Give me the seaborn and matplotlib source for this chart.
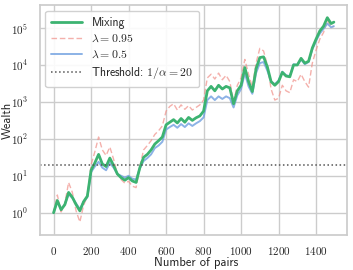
"""Wealth of the betting procedures over pairs (log scale)."""

import matplotlib
matplotlib.use("Agg")
import matplotlib.pyplot as plt
import matplotlib.ticker as mticker
import numpy as np
import pandas as pd
import seaborn as sns

pairs = [0, 20, 40, 60, 80, 100, 120, 140, 160, 180, 200, 220, 240, 260, 280,
         300, 320, 340, 360, 380, 400, 420, 440, 460, 480, 500, 520, 540, 560,
         580, 600, 620, 640, 660, 680, 700, 720, 740, 760, 780, 800, 820, 840,
         860, 880, 900, 920, 940, 960, 980, 1000, 1020, 1040, 1060, 1080, 1100,
         1120, 1140, 1160, 1180, 1200, 1220, 1240, 1260, 1280, 1300, 1320, 1340,
         1360, 1380, 1400, 1420, 1440, 1460, 1480, 1495]

# log10 of wealth
mixing_log = [0.00, 0.33, 0.08, 0.22, 0.55, 0.42, 0.22, 0.05, 0.30, 0.45, 1.15,
              1.35, 1.58, 1.32, 1.25, 1.48, 1.28, 1.05, 0.95, 0.88, 0.95, 0.86,
              0.82, 1.22, 1.50, 1.58, 1.70, 1.86, 1.95, 2.05, 2.38, 2.45, 2.52,
              2.43, 2.55, 2.45, 2.58, 2.50, 2.57, 2.62, 2.75, 3.30, 3.42, 3.30,
              3.45, 3.35, 3.42, 3.38, 2.95, 3.30, 3.45, 3.93, 3.55, 3.28, 3.90,
              4.20, 4.22, 3.95, 3.55, 3.45, 3.55, 3.80, 3.70, 3.68, 4.00, 4.00,
              4.18, 4.05, 4.10, 4.46, 4.70, 4.92, 5.05, 5.28, 5.12, 5.16]
lam095_log = [0.00, 0.48, 0.02, 0.25, 0.82, 0.55, 0.05, -0.25, 0.20, 0.45, 1.30,
              1.65, 2.05, 1.70, 1.55, 1.78, 1.45, 1.05, 0.90, 0.80, 0.85, 0.72,
              0.68, 1.25, 1.70, 1.82, 1.95, 2.12, 2.22, 2.35, 2.75, 2.88, 2.95,
              2.78, 2.92, 2.80, 2.90, 2.78, 2.85, 2.92, 3.05, 3.65, 3.75, 3.62,
              3.78, 3.60, 3.72, 3.55, 3.00, 3.45, 3.65, 4.15, 3.75, 3.40, 4.05,
              4.45, 4.38, 4.00, 3.35, 3.05, 3.10, 3.45, 3.30, 3.25, 3.60, 3.55,
              3.75, 3.55, 3.40, 4.05, 4.40, 4.70, 4.88, 5.20, 5.02, 5.05]
lam05_log = [0.00, 0.30, 0.10, 0.22, 0.50, 0.40, 0.25, 0.10, 0.30, 0.42, 1.10,
             1.25, 1.38, 1.22, 1.15, 1.35, 1.22, 1.05, 1.00, 0.95, 1.00, 0.92,
             0.90, 1.20, 1.40, 1.48, 1.58, 1.75, 1.82, 1.92, 2.25, 2.32, 2.38,
             2.30, 2.40, 2.32, 2.42, 2.35, 2.42, 2.48, 2.58, 3.05, 3.15, 3.05,
             3.15, 3.08, 3.15, 3.10, 2.85, 3.18, 3.35, 3.78, 3.42, 3.22, 3.78,
             4.05, 4.08, 3.85, 3.55, 3.48, 3.58, 3.82, 3.72, 3.70, 4.02, 4.00,
             4.15, 4.02, 4.08, 4.42, 4.65, 4.85, 4.98, 5.12, 5.02, 5.05]
threshold = 20
x_ticks = [0, 200, 400, 600, 800, 1000, 1200, 1400]
y_ticks = [1, 10, 100, 1000, 10000, 100000]

sns.set_theme(style="whitegrid")
plt.rcParams["font.family"] = ["cmss10", "DejaVu Sans"]
plt.rcParams["mathtext.fontset"] = "cm"
plt.rcParams["axes.unicode_minus"] = False

df = pd.DataFrame({
    "pairs": pairs,
    "mixing": 10 ** np.array(mixing_log),
    "lam095": 10 ** np.array(lam095_log),
    "lam05": 10 ** np.array(lam05_log),
})

fig = plt.figure(figsize=(3.53, 2.70), dpi=100)
ax = fig.add_axes([0.112, 0.130, 0.871, 0.851])

sns.lineplot(data=df, x="pairs", y="lam095", ax=ax, color="#f08f88",
             alpha=0.7, lw=1.0, linestyle=(0, (4, 2)), label=r"$\lambda = 0.95$")
sns.lineplot(data=df, x="pairs", y="lam05", ax=ax, color="#6f9fe0",
             alpha=0.8, lw=1.4, label=r"$\lambda = 0.5$")
sns.lineplot(data=df, x="pairs", y="mixing", ax=ax, color="#3cb371",
             lw=2.0, label="Mixing")
ax.axhline(threshold, color="#555555", ls=":", lw=1.1,
           label=r"Threshold: $1/\alpha = 20$")

ax.set_yscale("log")
ax.set_xlim(-75, 1565)
ax.set_ylim(10 ** -0.6, 10 ** 5.62)
ax.xaxis.set_major_locator(mticker.FixedLocator(x_ticks))
ax.xaxis.set_major_formatter(mticker.FuncFormatter(lambda v, p: r"$%d$" % v))
ax.yaxis.set_major_locator(mticker.FixedLocator(y_ticks))
ax.yaxis.set_minor_locator(mticker.NullLocator())
ax.yaxis.set_major_formatter(
    mticker.FuncFormatter(lambda v, p: r"$10^{%d}$" % round(np.log10(v))))
ax.tick_params(labelsize=8, pad=2)
ax.tick_params(axis="x", pad=1.5)
ax.set_xlabel("Number of pairs", fontsize=9)
ax.set_ylabel("Wealth", fontsize=9)
ax.xaxis.set_label_coords(0.51, -0.098, transform=ax.transAxes)
ax.yaxis.set_label_coords(-0.085, 0.5, transform=ax.transAxes)

handles, labels = ax.get_legend_handles_labels()
order = [2, 0, 1, 3]
ax.legend([handles[i] for i in order], [labels[i] for i in order],
          loc="upper left", fontsize=8.5, handlelength=2.6,
          borderpad=0.5, labelspacing=0.35, framealpha=0.9)

fig.savefig("out.png", dpi=100)
